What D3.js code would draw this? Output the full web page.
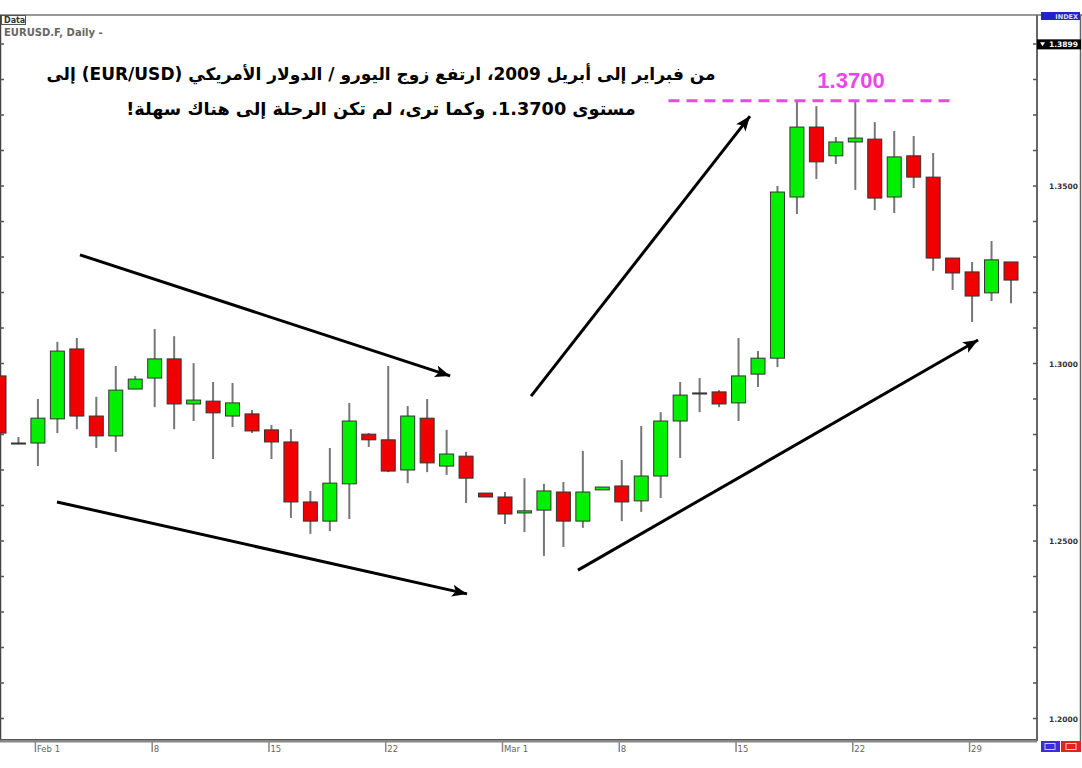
<!DOCTYPE html>
<html><head><meta charset="utf-8">
<script src="https://cdn.jsdelivr.net/npm/d3@7"></script>
<style>body{margin:0;background:#fff}svg{display:block}</style>
</head><body><svg id="c" width="1082" height="768"></svg>
<script>
// ---- data ----
const opens  = [1.2965,1.2776,1.2776,1.2844,1.3041,1.2852,1.2796,1.2928,1.2959,1.3013,1.2886,1.2894,1.2852,1.2858,1.2813,1.2779,1.2610,1.2556,1.2661,1.2801,1.2785,1.2700,1.2846,1.2711,1.2739,1.2635,1.2624,1.2579,1.2587,1.2638,1.2556,1.2644,1.2655,1.2613,1.2683,1.2838,1.2917,1.2920,1.2889,1.2970,1.3015,1.3469,1.3666,1.3585,1.3624,1.3632,1.3469,1.3585,1.3525,1.3297,1.3258,1.3199,1.3286];
const highs  = [1.2972,1.2793,1.2900,1.3061,1.3072,1.2906,1.2993,1.2965,1.3097,1.3077,1.3001,1.2948,1.2945,1.2869,1.2827,1.2815,1.2641,1.2762,1.2889,1.2804,1.2993,1.2880,1.2900,1.2813,1.2751,1.2635,1.2638,1.2677,1.2661,1.2666,1.2754,1.2652,1.2728,1.2824,1.2863,1.2948,1.2959,1.2925,1.3072,1.3035,1.3500,1.3742,1.3725,1.3638,1.3737,1.3680,1.3655,1.3641,1.3593,1.3297,1.3286,1.3345,1.3286];
const lows   = [1.2796,1.2773,1.2711,1.2804,1.2815,1.2762,1.2751,1.2928,1.2877,1.2815,1.2838,1.2731,1.2821,1.2804,1.2731,1.2565,1.2520,1.2528,1.2562,1.2765,1.2694,1.2663,1.2694,1.2686,1.2607,1.2624,1.2548,1.2525,1.2458,1.2483,1.2537,1.2644,1.2556,1.2582,1.2621,1.2734,1.2863,1.2877,1.2838,1.2934,1.2990,1.3421,1.3520,1.3562,1.3489,1.3432,1.3424,1.3494,1.3261,1.3207,1.3117,1.3176,1.3170];
const closes = [1.2804,1.2776,1.2846,1.3035,1.2852,1.2796,1.2925,1.2956,1.3013,1.2886,1.2897,1.2861,1.2889,1.2810,1.2779,1.2610,1.2556,1.2663,1.2838,1.2785,1.2697,1.2852,1.2720,1.2745,1.2677,1.2624,1.2576,1.2585,1.2641,1.2556,1.2638,1.2652,1.2610,1.2683,1.2838,1.2911,1.2917,1.2886,1.2965,1.3015,1.3483,1.3666,1.3568,1.3624,1.3635,1.3466,1.3582,1.3525,1.3297,1.3255,1.3190,1.3292,1.3235];
const xTickLabels = ["Feb 1","8","15","22","Mar 1","8","15","22","29"];
const xTickIndex  = [2,8,14,20,26,32,38,44,50];
const yTickLabels = ["1.2000","1.2500","1.3000","1.3500"];
const yTickValues = [1.20,1.25,1.30,1.35];
const yMinorValues = [1.20,1.21,1.22,1.23,1.24,1.25,1.26,1.27,1.28,1.29,1.30,1.31,1.32,1.33,1.34,1.35,1.36,1.37,1.38,1.39];
const lastPrice = 1.3899;
const lastPriceLabel = "1.3899";
const resistanceLevel = 1.3740;
const resistanceLabel = "1.3700";
const resistanceFrom = 34.4, resistanceTo = 49.2;
const arrowStartIdx = [4.16, 2.98, 27.34, 29.75];
const arrowStartVal = [1.3306, 1.2610, 1.2908, 1.2418];
const arrowEndIdx   = [23.18, 24.05, 38.59, 50.31];
const arrowEndVal   = [1.2965, 1.2351, 1.3697, 1.3066];
const symbolTitle = "EURUSD.F, Daily -";
const titleLines = ["من فبراير إلى أبريل 2009، ارتفع زوج اليورو / الدولار الأمريكي (EUR/USD) إلى",
                    "مستوى 1.3700. وكما ترى، لم تكن الرحلة إلى هناك سهلة!"];
const titleWidths = [670, 510];

// ---- layout ----
const W = 1082, H = 768;
const plotTop = 15, plotBottom = 741, plotRight = 1037;
const svg = d3.select("#c");
const x = d3.scaleLinear().domain([0, 52]).range([-1, 1011]);
const y = d3.scaleLinear().domain([1.20, 1.35]).range([718.5, 186]);

const candles = opens.map((o, i) => ({i, o, h: highs[i], l: lows[i], c: closes[i]}));

// frame
svg.append("line").attr("x1", 0).attr("x2", W).attr("y1", plotTop).attr("y2", plotTop)
  .attr("stroke", "#333").attr("stroke-width", 1.2);
svg.append("line").attr("x1", 0.5).attr("x2", 0.5).attr("y1", plotTop).attr("y2", plotBottom)
  .attr("stroke", "#444").attr("stroke-width", 1.5);
svg.append("line").attr("x1", 0).attr("x2", plotRight).attr("y1", plotBottom).attr("y2", plotBottom)
  .attr("stroke", "#888").attr("stroke-width", 3);
svg.append("line").attr("x1", 0).attr("x2", plotRight).attr("y1", plotBottom - 1.5).attr("y2", plotBottom - 1.5)
  .attr("stroke", "#555").attr("stroke-width", 1);
svg.append("line").attr("x1", plotRight).attr("x2", plotRight).attr("y1", plotTop).attr("y2", plotBottom)
  .attr("stroke", "#666").attr("stroke-width", 2);
svg.append("line").attr("x1", 1080.5).attr("x2", 1080.5).attr("y1", plotTop).attr("y2", plotBottom)
  .attr("stroke", "#666").attr("stroke-width", 1.5);

// header
svg.append("rect").attr("x", 1.5).attr("y", 15.5).attr("width", 24).attr("height", 9)
  .attr("fill", "#fff").attr("stroke", "#555").attr("stroke-width", 1);
svg.append("text").attr("x", 4).attr("y", 23).attr("font-family", "DejaVu Sans, sans-serif")
  .attr("font-size", 8).attr("font-weight", "bold").attr("fill", "#333").text("Data");
svg.append("text").attr("x", 4).attr("y", 36).attr("font-family", "DejaVu Sans, sans-serif")
  .attr("font-size", 10).attr("font-weight", "bold").attr("fill", "#666").text(symbolTitle);

// right axis
const yAxis = svg.append("g").attr("transform", `translate(${plotRight},0)`);
yAxis.selectAll("line.minor").data(yMinorValues).join("line").attr("class", "minor")
  .attr("x1", -4).attr("x2", 0).attr("y1", d => y(d)).attr("y2", d => y(d))
  .attr("stroke", "#555").attr("stroke-width", 1.5);
yAxis.selectAll("text").data(yTickValues).join("text")
  .attr("x", 41).attr("y", d => y(d) + 3).attr("text-anchor", "end")
  .attr("font-family", "DejaVu Sans, sans-serif").attr("font-size", 7.5).attr("font-weight", "bold")
  .attr("fill", "#333").text((d, i) => yTickLabels[i]);
// left small ticks
svg.append("g").selectAll("line").data(yMinorValues).join("line")
  .attr("x1", 0).attr("x2", 4).attr("y1", d => y(d)).attr("y2", d => y(d))
  .attr("stroke", "#555").attr("stroke-width", 1.5);

// INDEX box & last price box
svg.append("rect").attr("x", 1041).attr("y", 12).attr("width", 39).attr("height", 8).attr("fill", "#2323c8");
svg.append("text").attr("x", 1078).attr("y", 19).attr("text-anchor", "end")
  .attr("font-family", "DejaVu Sans, sans-serif").attr("font-size", 6.5).attr("font-weight", "bold")
  .attr("fill", "#dde").text("INDEX");
svg.append("rect").attr("x", plotRight).attr("y", y(lastPrice) - 5).attr("width", 44).attr("height", 10).attr("fill", "#000");
svg.append("path").attr("d", `M${plotRight + 3},${y(lastPrice) - 2} l5,0 l-2.5,4 z`).attr("fill", "#fff");
svg.append("text").attr("x", 1078).attr("y", y(lastPrice) + 3).attr("text-anchor", "end")
  .attr("font-family", "DejaVu Sans, sans-serif").attr("font-size", 7.5).attr("font-weight", "bold")
  .attr("fill", "#fff").text(lastPriceLabel);

// bottom axis
const xAxis = svg.append("g");
xAxis.selectAll("line").data(xTickIndex).join("line")
  .attr("x1", d => x(d) - 2.5).attr("x2", d => x(d) - 2.5).attr("y1", plotBottom).attr("y2", plotBottom + 11)
  .attr("stroke", "#888").attr("stroke-width", 1.5);
xAxis.selectAll("text").data(xTickIndex).join("text")
  .attr("x", d => x(d) - 1).attr("y", plotBottom + 11)
  .attr("font-family", "DejaVu Sans, sans-serif").attr("font-size", 8.5).attr("fill", "#666")
  .text((d, i) => xTickLabels[i]);

// bottom-right buttons
svg.append("rect").attr("x", 1041).attr("y", 741).attr("width", 19).attr("height", 11).attr("fill", "#3a2fd0");
svg.append("rect").attr("x", 1061).attr("y", 741).attr("width", 20).attr("height", 11).attr("fill", "#e02424");
svg.append("rect").attr("x", 1045).attr("y", 743.5).attr("width", 10).attr("height", 6).attr("fill", "none").attr("stroke", "#ccd").attr("stroke-width", 1);
svg.append("rect").attr("x", 1066).attr("y", 743.5).attr("width", 10).attr("height", 6).attr("fill", "none").attr("stroke", "#fcc").attr("stroke-width", 1);

// candles
const plot = svg.append("g");
const bw = 14;
plot.selectAll("line.wick").data(candles).join("line").attr("class", "wick")
  .attr("x1", d => x(d.i)).attr("x2", d => x(d.i))
  .attr("y1", d => y(d.h)).attr("y2", d => y(d.l))
  .attr("stroke", "#777").attr("stroke-width", 2);
plot.selectAll("rect.body").data(candles).join("rect").attr("class", "body")
  .attr("x", d => x(d.i) - bw / 2).attr("width", bw)
  .attr("y", d => y(Math.max(d.o, d.c)))
  .attr("height", d => Math.max(1, Math.abs(y(d.o) - y(d.c))))
  .attr("fill", d => d.c > d.o ? "#00f000" : (d.c < d.o ? "#f00000" : "#333"))
  .attr("stroke", "#333").attr("stroke-width", 1);

// resistance line & label
svg.append("line").attr("x1", x(resistanceFrom)).attr("x2", x(resistanceTo))
  .attr("y1", y(resistanceLevel)).attr("y2", y(resistanceLevel))
  .attr("stroke", "#ee44ee").attr("stroke-width", 3).attr("stroke-dasharray", "11,7");
svg.append("text").attr("x", 851).attr("y", 88).attr("text-anchor", "middle")
  .attr("font-family", "Liberation Sans, Arial, sans-serif").attr("font-size", 22).attr("font-weight", "bold")
  .attr("fill", "#ee44ee").text(resistanceLabel);

// arrows
const defs = svg.append("defs");
defs.append("marker").attr("id", "ah").attr("markerUnits", "userSpaceOnUse")
  .attr("markerWidth", 18).attr("markerHeight", 14).attr("refX", 15).attr("refY", 6)
  .attr("orient", "auto")
  .append("path").attr("d", "M0,0 L15,6 L0,12 L3.5,6 z").attr("fill", "#000");
svg.append("g").selectAll("line").data(arrowStartIdx).join("line")
  .attr("x1", (d, i) => x(d)).attr("y1", (d, i) => y(arrowStartVal[i]))
  .attr("x2", (d, i) => x(arrowEndIdx[i])).attr("y2", (d, i) => y(arrowEndVal[i]))
  .attr("stroke", "#000").attr("stroke-width", 3).attr("marker-end", "url(#ah)");

// Arabic title (fitted to the reference's line widths)
const tg = svg.append("g");
tg.selectAll("text").data(titleLines).join("text")
  .attr("x", 381).attr("y", (d, i) => 80 + i * 35)
  .attr("text-anchor", "middle").attr("direction", "rtl")
  .attr("font-family", "DejaVu Sans, sans-serif").attr("font-size", 20).attr("font-weight", "bold")
  .attr("fill", "#000").text(d => d)
  .each(function (d, i) {
    const len = this.getComputedTextLength();
    if (len > 0) d3.select(this).attr("font-size", 20 * titleWidths[i] / len);
  });
</script></body></html>
